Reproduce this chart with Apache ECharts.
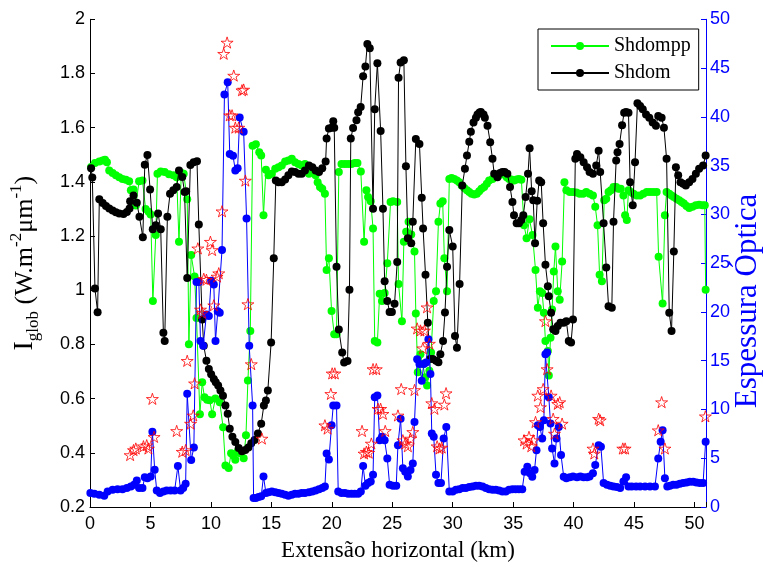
<!DOCTYPE html>
<html><head><meta charset="utf-8">
<script src="https://cdn.jsdelivr.net/npm/echarts@6/dist/echarts.min.js"></script>
<style>html,body{margin:0;padding:0;background:#fff}#c{width:763px;height:567px}</style>
</head><body><div id="c"></div>
<script>
// x axis: horizontal distance (km); left axis: Iglob; right axis: optical depth
const xTickValues = [0,5,10,15,20,25,30,35,40,45,50];
const leftTicks = [0.2,0.4,0.6,0.8,1,1.2,1.4,1.6,1.8,2];
const rightTicks = [0,5,10,15,20,25,30,35,40,45,50];
const legendNames = ['Shdompp','Shdom'];

// Shdompp (green) [km, Iglob]
const shdompp = [[0.09,1.455],[0.41,1.470],[0.77,1.475],[1.05,1.479],[1.24,1.482],[1.40,1.472],[1.59,1.442],[1.87,1.433],[2.14,1.424],[2.42,1.417],[2.69,1.411],[2.97,1.408],[3.24,1.402],[3.38,1.369],[3.60,1.372],[3.79,1.313],[4.06,1.402],[4.34,1.405],[4.60,1.300],[4.85,1.290],[5.02,1.280],[5.20,0.960],[5.44,1.204],[5.58,1.430],[5.85,1.438],[6.18,1.436],[6.53,1.428],[6.89,1.424],[7.17,1.417],[7.36,1.179],[7.55,1.433],[7.75,1.430],[8.04,1.336],[8.18,0.801],[8.37,1.130],[8.65,1.051],[8.81,0.898],[9.09,0.542],[9.28,0.660],[9.47,0.605],[9.69,0.596],[9.91,0.594],[10.10,0.542],[10.37,0.600],[10.73,0.587],[11.01,0.494],[11.20,0.353],[11.47,0.344],[11.67,0.398],[11.85,0.390],[12.02,0.374],[12.24,0.408],[12.43,0.398],[12.71,0.380],[12.90,0.465],[13.06,0.667],[13.26,0.850],[13.45,1.533],[13.72,1.539],[14.00,1.509],[14.16,1.497],[14.35,1.277],[14.55,1.445],[14.77,1.424],[15.04,1.430],[15.32,1.448],[15.59,1.454],[15.86,1.460],[16.14,1.475],[16.41,1.479],[16.69,1.485],[16.96,1.472],[17.24,1.466],[17.51,1.460],[17.78,1.466],[18.11,1.430],[18.39,1.436],[18.66,1.424],[18.83,1.399],[19.02,1.381],[19.21,1.375],[19.43,1.356],[19.57,1.075],[19.76,1.118],[19.98,0.923],[20.20,0.838],[20.39,0.838],[20.58,1.436],[20.80,1.466],[21.08,1.466],[21.35,1.466],[21.63,1.466],[21.90,1.470],[22.12,1.470],[22.40,1.438],[22.67,1.179],[22.86,1.369],[23.00,1.344],[23.22,1.328],[23.41,1.228],[23.55,0.813],[23.77,0.807],[23.96,0.987],[24.15,0.960],[24.37,0.990],[24.59,1.100],[24.86,1.326],[25.06,1.328],[25.41,1.326],[25.52,1.023],[25.80,0.886],[25.96,1.179],[26.15,1.216],[26.35,1.253],[26.57,1.206],[26.84,1.143],[26.95,0.914],[27.11,0.697],[27.33,0.764],[27.53,0.728],[27.72,0.679],[27.88,0.648],[28.07,0.703],[28.21,0.770],[28.43,0.960],[28.62,0.996],[28.82,1.253],[28.98,1.320],[29.17,1.328],[29.31,1.118],[29.53,0.996],[29.72,1.411],[29.91,1.414],[30.13,1.411],[30.35,1.405],[30.54,1.399],[30.74,1.387],[30.96,1.377],[31.18,1.369],[31.37,1.363],[31.56,1.356],[31.78,1.353],[32.00,1.356],[32.19,1.365],[32.38,1.375],[32.60,1.381],[32.82,1.393],[33.01,1.405],[33.29,1.411],[33.48,1.417],[33.70,1.424],[33.92,1.426],[34.11,1.430],[34.30,1.426],[34.47,1.417],[34.66,1.411],[34.85,1.409],[35.07,1.405],[35.29,1.409],[35.48,1.411],[35.68,1.408],[35.90,1.240],[36.11,1.192],[36.35,1.262],[36.60,1.204],[36.85,1.075],[37.04,0.935],[37.21,0.996],[37.40,0.990],[37.54,0.917],[37.67,0.813],[37.87,0.776],[37.95,0.685],[38.09,0.825],[38.22,0.929],[38.36,1.069],[38.50,1.161],[38.69,0.996],[38.85,0.965],[39.05,1.106],[39.24,1.399],[39.40,1.369],[39.68,1.363],[39.95,1.363],[40.23,1.361],[40.50,1.356],[40.78,1.356],[41.05,1.363],[41.32,1.356],[41.60,1.350],[41.79,1.308],[41.98,1.240],[42.15,1.057],[42.34,1.033],[42.53,1.332],[42.70,1.338],[42.89,1.363],[43.08,1.369],[43.30,1.381],[43.52,1.381],[43.71,1.375],[43.90,1.375],[44.12,1.350],[44.26,1.277],[44.40,1.259],[44.54,1.369],[44.73,1.363],[44.95,1.356],[45.22,1.350],[45.50,1.350],[45.77,1.356],[46.05,1.363],[46.32,1.363],[46.59,1.363],[46.87,1.363],[47.03,1.124],[47.36,0.951],[47.55,1.277],[47.69,1.363],[47.91,1.356],[48.10,1.350],[48.29,1.344],[48.51,1.338],[48.73,1.332],[48.93,1.326],[49.12,1.320],[49.34,1.311],[49.56,1.304],[49.83,1.308],[50.11,1.314],[50.38,1.316],[50.66,1.314],[50.85,1.314],[50.92,1.002]];

// Shdom (black) [km, Iglob]
const shdom = [[0.09,1.450],[0.19,1.416],[0.41,1.006],[0.63,0.919],[0.77,1.336],[1.05,1.322],[1.32,1.311],[1.59,1.302],[1.87,1.294],[2.14,1.288],[2.42,1.283],[2.77,1.281],[3.05,1.289],[3.27,1.302],[3.32,1.328],[3.60,1.350],[3.87,1.323],[4.09,1.271],[4.37,1.196],[4.53,1.463],[4.75,1.499],[4.97,1.372],[5.19,1.225],[5.44,1.240],[5.63,1.283],[5.85,1.225],[6.07,0.843],[6.18,0.813],[6.40,1.271],[6.62,1.356],[6.89,1.369],[7.17,1.381],[7.36,1.442],[7.63,1.418],[7.82,1.363],[7.95,1.365],[8.04,1.045],[8.30,1.462],[8.57,1.472],[8.85,1.476],[9.00,1.243],[9.28,0.892],[9.41,0.795],[9.63,0.740],[9.83,0.709],[10.02,0.690],[10.24,0.672],[10.40,0.660],[10.60,0.648],[10.79,0.630],[11.00,0.611],[11.20,0.575],[11.39,0.544],[11.56,0.489],[11.78,0.459],[12.02,0.440],[12.30,0.418],[12.57,0.406],[12.85,0.410],[13.10,0.420],[13.34,0.435],[13.61,0.447],[13.89,0.471],[14.16,0.507],[14.38,0.575],[14.55,0.593],[14.71,0.630],[14.98,0.807],[15.20,1.118],[15.37,1.405],[15.59,1.399],[15.86,1.399],[16.14,1.409],[16.41,1.424],[16.69,1.438],[16.96,1.436],[17.24,1.430],[17.51,1.430],[17.78,1.442],[18.11,1.460],[18.39,1.454],[18.66,1.442],[18.94,1.436],[19.21,1.450],[19.49,1.475],[19.57,1.560],[19.76,1.597],[19.98,1.600],[20.12,1.624],[20.20,1.600],[20.39,1.087],[20.58,0.855],[20.86,0.770],[21.02,0.733],[21.30,0.739],[21.46,1.002],[21.57,1.560],[21.76,1.599],[22.04,1.627],[22.18,1.657],[22.39,1.676],[22.59,1.790],[22.78,1.826],[22.94,1.909],[23.14,1.893],[23.41,1.301],[23.55,1.668],[23.77,1.838],[24.04,1.588],[24.23,1.301],[24.37,1.033],[24.59,0.960],[24.78,0.920],[24.97,0.920],[25.19,0.950],[25.41,1.104],[25.52,1.784],[25.69,1.841],[25.96,1.849],[26.13,1.458],[26.29,1.192],[26.57,1.173],[26.70,1.253],[26.95,1.558],[27.25,1.540],[27.44,1.341],[27.55,1.228],[27.75,1.057],[27.94,0.880],[28.10,0.746],[28.35,0.746],[28.62,0.740],[28.82,0.734],[28.98,0.764],[29.20,0.813],[29.36,0.918],[29.53,1.087],[29.72,1.222],[30.00,1.161],[30.19,0.831],[30.35,0.788],[30.57,1.023],[30.79,1.387],[31.01,1.448],[31.18,1.497],[31.37,1.548],[31.50,1.585],[31.72,1.619],[31.92,1.637],[32.05,1.649],[32.22,1.656],[32.33,1.658],[32.55,1.649],[32.66,1.637],[32.88,1.607],[33.10,1.546],[33.29,1.485],[33.43,1.430],[33.70,1.417],[33.92,1.433],[34.11,1.436],[34.30,1.436],[34.52,1.430],[34.74,1.381],[34.94,1.326],[35.07,1.277],[35.29,1.247],[35.48,1.247],[35.68,1.259],[35.84,1.277],[36.03,1.344],[36.23,1.430],[36.36,1.524],[36.53,1.365],[36.66,1.332],[36.81,1.173],[36.99,1.330],[37.15,1.405],[37.32,1.399],[37.48,1.247],[37.67,1.094],[37.87,1.015],[37.95,0.978],[38.14,0.917],[38.31,0.856],[38.50,0.850],[38.69,0.868],[38.91,0.880],[39.18,0.880],[39.40,0.886],[39.60,0.813],[39.79,0.807],[39.95,0.892],[40.14,1.485],[40.28,1.503],[40.56,1.491],[40.83,1.472],[41.11,1.454],[41.32,1.436],[41.60,1.430],[41.87,1.460],[42.07,1.515],[42.20,1.436],[42.48,1.247],[42.70,1.084],[42.89,0.941],[43.16,0.935],[43.30,1.253],[43.52,1.479],[43.63,1.509],[43.80,1.540],[44.01,1.609],[44.18,1.655],[44.34,1.658],[44.54,1.655],[44.67,1.399],[44.89,1.314],[45.08,1.472],[45.28,1.690],[45.50,1.680],[45.72,1.668],[45.99,1.649],[46.26,1.637],[46.54,1.619],[46.81,1.607],[47.00,1.643],[47.28,1.637],[47.47,1.600],[47.69,1.485],[47.91,0.917],[48.10,0.850],[48.29,1.143],[48.46,1.454],[48.65,1.424],[48.84,1.399],[49.06,1.393],[49.28,1.387],[49.56,1.399],[49.83,1.411],[50.11,1.430],[50.38,1.448],[50.71,1.460],[50.92,1.497]];

// Optical depth (blue, right axis) [km, tau]
const opticalDepth = [[0.03,1.43],[0.36,1.36],[0.77,1.26],[1.18,1.16],[1.46,1.60],[1.87,1.77],[2.28,1.83],[2.69,1.83],[3.05,1.94],[3.38,2.11],[3.65,2.28],[3.87,2.72],[4.06,1.94],[4.34,1.94],[4.53,3.06],[4.75,2.96],[5.02,3.13],[5.16,7.71],[5.35,3.81],[5.52,1.70],[5.79,1.43],[6.07,1.60],[6.34,1.70],[6.67,1.70],[7.00,1.70],[7.27,4.20],[7.49,1.70],[7.71,1.94],[7.91,2.38],[8.04,11.60],[8.37,4.81],[8.59,6.10],[8.81,23.07],[9.00,23.07],[9.14,17.03],[9.36,16.52],[9.63,19.74],[9.83,19.57],[10.02,23.20],[10.24,22.80],[10.38,17.03],[10.57,20.08],[10.73,19.91],[10.92,26.35],[11.12,42.30],[11.39,43.55],[11.56,36.19],[11.83,36.02],[12.02,34.50],[12.21,34.73],[12.38,39.92],[12.71,38.46],[12.95,29.58],[13.17,16.52],[13.45,10.41],[13.53,0.92],[13.72,0.92],[13.94,1.02],[14.16,1.10],[14.35,3.13],[14.55,1.43],[14.77,1.50],[15.04,1.60],[15.32,1.50],[15.59,1.43],[15.86,1.36],[16.14,1.26],[16.41,1.16],[16.69,1.26],[16.96,1.36],[17.24,1.36],[17.51,1.43],[17.78,1.43],[18.11,1.50],[18.39,1.60],[18.66,1.70],[18.94,1.83],[19.21,1.94],[19.43,2.11],[19.57,5.49],[19.76,4.88],[19.98,8.38],[20.12,10.41],[20.39,10.41],[20.53,1.60],[20.80,1.43],[21.08,1.43],[21.35,1.36],[21.63,1.36],[21.90,1.36],[22.18,1.36],[22.40,1.60],[22.59,4.20],[22.78,2.18],[23.00,2.45],[23.22,2.62],[23.41,3.30],[23.55,11.26],[23.77,11.43],[23.96,6.85],[24.15,7.19],[24.37,6.85],[24.59,4.98],[24.78,2.28],[25.06,2.18],[25.33,2.18],[25.47,6.34],[25.69,9.05],[25.88,3.96],[26.07,3.62],[26.29,3.13],[26.51,3.79],[26.70,4.47],[26.84,8.71],[27.06,15.15],[27.25,14.65],[27.44,12.95],[27.61,14.65],[27.80,14.82],[27.99,17.20],[28.16,13.63],[28.27,7.53],[28.43,7.19],[28.62,3.30],[28.82,2.45],[29.03,2.45],[29.25,7.02],[29.47,8.21],[29.72,1.60],[30.00,1.60],[30.27,1.77],[30.54,1.83],[30.82,1.94],[31.09,1.94],[31.37,2.04],[31.64,2.11],[31.92,2.18],[32.19,2.18],[32.47,2.11],[32.74,1.94],[33.01,1.83],[33.29,1.77],[33.56,1.77],[33.84,1.70],[34.11,1.60],[34.39,1.60],[34.66,1.77],[34.94,1.83],[35.21,1.83],[35.48,1.83],[35.75,1.83],[35.95,3.62],[36.17,4.13],[36.39,3.45],[36.58,3.11],[36.77,3.79],[36.93,5.83],[37.04,8.38],[37.21,8.21],[37.40,7.02],[37.54,8.89],[37.67,15.67],[37.81,15.84],[37.95,11.26],[38.09,8.55],[38.22,6.00],[38.42,4.47],[38.58,7.02],[38.77,8.21],[38.96,5.32],[39.18,3.11],[39.40,2.96],[39.68,3.06],[39.95,3.13],[40.28,3.06],[40.56,3.13],[40.83,3.06],[41.11,3.06],[41.32,3.13],[41.60,3.45],[41.79,4.30],[42.07,6.34],[42.26,6.17],[42.48,2.45],[42.76,2.28],[43.03,2.18],[43.30,2.11],[43.58,2.04],[43.85,1.94],[44.12,2.62],[44.34,3.06],[44.54,2.11],[44.81,2.11],[45.17,2.11],[45.50,2.11],[45.91,2.11],[46.32,2.11],[46.73,2.11],[47.00,4.98],[47.20,6.68],[47.36,7.87],[47.55,2.96],[47.75,2.11],[47.97,2.18],[48.24,2.28],[48.51,2.28],[48.79,2.38],[49.06,2.45],[49.34,2.52],[49.61,2.59],[49.89,2.59],[50.16,2.52],[50.44,2.45],[50.71,2.45],[50.92,6.68]];

// Red stars (right axis) [km, tau]
const starPoints = [[3.32,5.33],[3.60,5.84],[3.79,6.00],[4.42,6.23],[4.69,6.34],[4.83,6.00],[5.16,11.09],[5.30,7.19],[7.17,7.80],[7.63,5.67],[7.91,5.84],[8.04,14.99],[8.32,8.55],[8.54,9.39],[8.65,12.68],[8.92,26.52],[9.14,20.25],[9.28,19.91],[9.41,23.40],[9.63,23.30],[9.96,27.20],[10.10,26.35],[10.24,20.68],[10.51,23.63],[10.65,23.97],[10.92,30.32],[11.06,46.47],[11.34,47.62],[11.56,40.16],[11.75,40.16],[11.89,44.23],[12.02,38.90],[12.30,38.90],[12.57,42.73],[12.71,42.80],[12.85,33.47],[13.06,20.80],[13.34,14.65],[14.22,7.02],[19.43,8.38],[19.65,8.04],[19.92,11.60],[20.03,13.70],[20.25,13.70],[22.50,7.80],[22.67,5.49],[22.86,5.67],[23.05,5.57],[23.27,6.51],[23.41,14.14],[23.68,14.14],[23.82,10.07],[24.04,10.07],[24.23,9.56],[24.42,7.80],[25.47,9.39],[25.74,12.10],[25.88,6.85],[26.07,6.51],[26.29,6.23],[26.51,7.02],[26.70,7.70],[26.84,12.00],[27.06,18.31],[27.33,18.10],[27.53,16.28],[27.66,18.10],[27.88,20.48],[28.07,16.75],[28.27,10.65],[28.49,10.07],[28.71,6.23],[28.90,6.00],[29.09,6.10],[29.31,10.51],[29.45,11.67],[35.90,6.85],[36.11,6.51],[36.31,7.19],[36.50,6.23],[36.66,6.85],[36.85,8.72],[37.04,11.43],[37.26,10.24],[37.48,12.10],[37.67,19.06],[37.81,14.14],[38.14,11.43],[38.31,9.05],[38.42,7.53],[38.69,10.58],[38.85,10.75],[39.05,8.55],[41.60,6.00],[41.71,5.49],[42.07,9.05],[42.20,8.89],[44.07,6.00],[44.26,6.00],[47.00,7.87],[47.28,10.75],[47.55,6.00],[50.90,9.30]];

const STAR = 'path://M50,0 L61,35 L98,35 L68,56 L79,90 L50,69 L21,90 L32,56 L2,35 L39,35 Z';
const SERIF = '"Liberation Serif","Times New Roman",serif';
const SANS = '"Liberation Sans",Arial,sans-serif';

const chart = echarts.init(document.getElementById('c'), null, {renderer: 'canvas'});
chart.setOption({
  animation: false,
  backgroundColor: '#fff',
  grid: {left: 87.3, right: 57, top: 19.3, bottom: 56.3, containLabel: false},
  legend: {
    data: legendNames, orient: 'vertical', left: 538, top: 29,
    padding: [7, 8, 7, 12], itemWidth: 58, itemHeight: 10, itemGap: 7,
    backgroundColor: '#fff', borderColor: '#000', borderWidth: 1, borderRadius: 0,
    textStyle: {fontFamily: SERIF, fontSize: 20, color: '#000', lineHeight: 20},
    selectedMode: false
  },
  xAxis: {
    type: 'value', min: 0, max: 50.95, interval: 5,
    axisLine: {show: true, onZero: false, lineStyle: {color: '#000', width: 1}},
    axisTick: {show: true, inside: true, length: 5, lineStyle: {color: '#000'}},
    axisLabel: {color: '#000', fontFamily: SANS, fontSize: 18, margin: 8,
      formatter: v => (xTickValues.indexOf(Math.round(v * 100) / 100) >= 0 ? String(Math.round(v)) : '')},
    splitLine: {show: false},
    name: 'Extensão horizontal (km)', nameLocation: 'middle', nameGap: 32,
    nameTextStyle: {fontFamily: SERIF, fontSize: 23, color: '#000'}
  },
  yAxis: [{
    type: 'value', min: leftTicks[0], max: leftTicks[leftTicks.length - 1], interval: 0.2,
    axisLine: {show: true, onZero: false, lineStyle: {color: '#000', width: 1}},
    axisTick: {show: true, inside: true, length: 5, lineStyle: {color: '#000'}},
    axisLabel: {color: '#000', fontFamily: SANS, fontSize: 18, margin: 5,
      formatter: v => String(Math.round(v * 10) / 10)},
    splitLine: {show: false},
    name: '{i|I}{sub|glob}{t| (W.m}{sup|-2}{t|μm}{sup|-1}{t|)}',
    nameLocation: 'middle', nameRotate: 90, nameGap: 48,
    nameTextStyle: {fontFamily: SERIF, color: '#000', fontSize: 26,
      rich: {
        i: {fontFamily: SERIF, fontSize: 28, lineHeight: 34, color: '#000'},
        t: {fontFamily: SERIF, fontSize: 26, lineHeight: 34, color: '#000'},
        sub: {fontFamily: SERIF, fontSize: 17, lineHeight: 16, verticalAlign: 'bottom', color: '#000'},
        sup: {fontFamily: SERIF, fontSize: 17, lineHeight: 20, verticalAlign: 'top', color: '#000'}
      }}
  }, {
    type: 'value', position: 'right', min: rightTicks[0], max: rightTicks[rightTicks.length - 1], interval: 5,
    axisLine: {show: true, onZero: false, lineStyle: {color: '#0000ff', width: 1}},
    axisTick: {show: true, inside: true, length: 5, lineStyle: {color: '#0000ff'}},
    axisLabel: {color: '#0000ff', fontFamily: SANS, fontSize: 18, margin: 4},
    splitLine: {show: false}
  }],
  graphic: [{
    type: 'text', x: 748, y: 301, rotation: Math.PI / 2, silent: true,
    style: {text: 'Espessura Óptica', fill: '#0000ff', font: '31px ' + SERIF, align: 'center', verticalAlign: 'middle'}
  }],
  series: [{
    name: 'Shdompp', type: 'line', yAxisIndex: 0, data: shdompp, clip: false,
    symbol: 'circle', symbolSize: 8, showAllSymbol: true, color: '#00ff00',
    lineStyle: {width: 1, color: '#00ff00'}, itemStyle: {color: '#00ff00'}, z: 2, silent: true
  }, {
    name: 'Shdom', type: 'line', yAxisIndex: 0, data: shdom, clip: false,
    symbol: 'circle', symbolSize: 8, showAllSymbol: true, color: '#000',
    lineStyle: {width: 1, color: '#000'}, itemStyle: {color: '#000'}, z: 3, silent: true
  }, {
    name: 'Espessura', type: 'line', yAxisIndex: 1, data: opticalDepth, clip: false,
    symbol: 'circle', symbolSize: 8, showAllSymbol: true, color: '#0000ff',
    lineStyle: {width: 1, color: '#0000ff'}, itemStyle: {color: '#0000ff'}, z: 4, silent: true
  }, {
    name: 'Estrelas', type: 'scatter', yAxisIndex: 1, data: starPoints, clip: false,
    symbol: STAR, symbolSize: 12, symbolKeepAspect: true,
    itemStyle: {color: 'rgba(0,0,0,0)', borderColor: '#ff0000', borderWidth: 1}, z: 5, silent: true
  }]
});
</script>
</body></html>
